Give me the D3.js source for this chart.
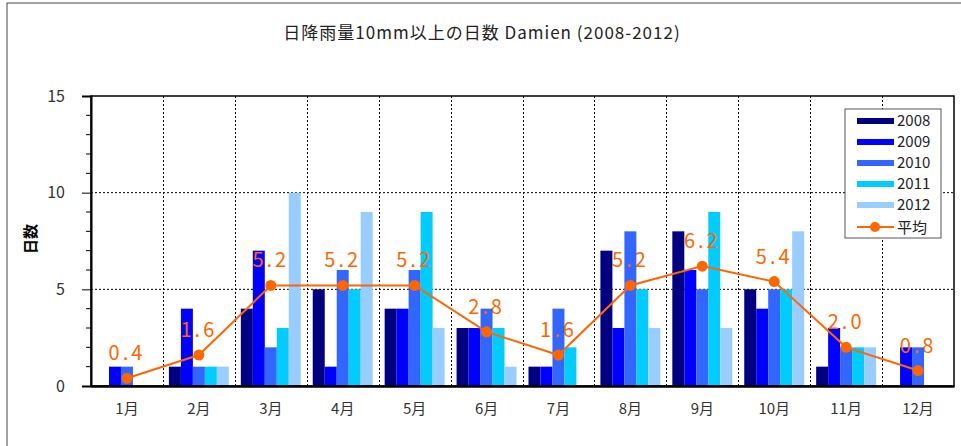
<!DOCTYPE html>
<html>
<head>
<meta charset="utf-8">
<script src="https://cdn.jsdelivr.net/npm/d3@7"></script>
<style>
  body { margin: 0; background: #fff; }
  text { font-family: "Noto Sans CJK JP", "DejaVu Sans", sans-serif; }
</style>
</head>
<body>
<div id="chart"></div>
<script>
// data
var months = ["1月","2月","3月","4月","5月","6月","7月","8月","9月","10月","11月","12月"];
var years = ["2008","2009","2010","2011","2012"];
var d2008 = [0, 1, 4, 5, 4, 3, 1, 7, 8, 5, 1, 0];
var d2009 = [1, 4, 7, 1, 4, 3, 1, 3, 6, 4, 3, 2];
var d2010 = [1, 1, 2, 6, 6, 4, 4, 8, 5, 5, 2, 2];
var d2011 = [0, 1, 3, 5, 9, 3, 2, 5, 9, 5, 2, 0];
var d2012 = [0, 1, 10, 9, 3, 1, 0, 3, 3, 8, 2, 0];
var average = [0.4, 1.6, 5.2, 5.2, 5.2, 2.8, 1.6, 5.2, 6.2, 5.4, 2.0, 0.8];
var yTicks = [0, 5, 10, 15];
var series = [d2008, d2009, d2010, d2011, d2012];
var colors = ["#000080", "#0000ff", "#3366ff", "#00ccff", "#99ccff"];
var avgColor = "#ff6600";

var W = 961, H = 446;
var margin = {top: 96, right: 7, bottom: 60, left: 91},
    width = W - margin.left - margin.right,
    height = H - margin.top - margin.bottom;

var svg = d3.select("#chart").append("svg")
    .attr("width", W)
    .attr("height", H);

// outer chart border
svg.append("rect")
    .attr("x", 7).attr("y", 3)
    .attr("width", W + 10).attr("height", H + 10)
    .attr("fill", "none")
    .attr("stroke", "#444")
    .attr("stroke-width", 1);

svg.append("text")
    .attr("x", 482).attr("y", 39)
    .attr("text-anchor", "middle")
    .style("font-size", "17px")
    .style("letter-spacing", "1px")
    .attr("fill", "#222")
    .text("日降雨量10mm以上の日数 Damien (2008-2012)");

var g = svg.append("g")
    .attr("transform", "translate(" + margin.left + "," + margin.top + ")");

var x = d3.scaleBand().domain(months).range([0, width]).paddingInner(0).paddingOuter(0);
var xs = d3.scaleBand().domain(years).range([0, x.bandwidth()]).paddingInner(0).paddingOuter(0.5);
var y = d3.scaleLinear().domain([0, 15]).range([height, 0]);

// horizontal gridlines
g.selectAll(".hgrid")
    .data(yTicks.filter(function(d){ return d > 0 && d < 15; }))
  .enter().append("line")
    .attr("x1", 0).attr("x2", width)
    .attr("y1", function(d){ return y(d); })
    .attr("y2", function(d){ return y(d); })
    .attr("stroke", "#000")
    .attr("stroke-width", 1)
    .attr("stroke-dasharray", "2,2");

// vertical gridlines between months
g.selectAll(".vgrid")
    .data(months.slice(1))
  .enter().append("line")
    .attr("x1", function(d){ return Math.round(x(d)) + 0.5; })
    .attr("x2", function(d){ return Math.round(x(d)) + 0.5; })
    .attr("y1", 0).attr("y2", height)
    .attr("stroke", "#000")
    .attr("stroke-width", 1)
    .attr("stroke-dasharray", "2,2");

// bars
series.forEach(function(s, i) {
  g.selectAll(".bar" + i)
      .data(s)
    .enter().append("rect")
      .attr("x", function(d, j){ return x(months[j]) + xs(years[i]); })
      .attr("y", function(d){ return y(d); })
      .attr("width", xs.bandwidth())
      .attr("height", function(d){ return height - y(d); })
      .attr("fill", colors[i]);
});

// plot frame
g.append("rect")
    .attr("x", 0).attr("y", 0)
    .attr("width", width).attr("height", height)
    .attr("fill", "none")
    .attr("stroke", "#000")
    .attr("stroke-width", 1.5);

// y axis
var yAxis = d3.axisLeft(y).tickValues(yTicks).tickSize(9).tickFormat(d3.format("d"));
var ya = g.append("g").call(yAxis);
ya.select(".domain").attr("stroke-width", 2);
ya.selectAll("text").style("font-size", "16px").attr("fill", "#333").attr("dx", "-14px");
var minor = d3.range(0, 16).filter(function(d){ return d % 5 != 0; });
g.selectAll(".minor")
    .data(minor)
  .enter().append("line")
    .attr("x1", -5).attr("x2", 0)
    .attr("y1", function(d){ return y(d); })
    .attr("y2", function(d){ return y(d); })
    .attr("stroke", "#000");

// x axis
var xAxis = d3.axisBottom(x).tickSize(0).tickPadding(17);
var xa = g.append("g").attr("transform", "translate(0," + height + ")").call(xAxis);
xa.select(".domain").attr("stroke-width", 2.5);
xa.selectAll("text").style("font-size", "15px").attr("fill", "#333");

g.append("text")
    .attr("transform", "rotate(-90)")
    .attr("x", -(height / 2) + 2)
    .attr("y", -55)
    .attr("text-anchor", "middle")
    .style("font-size", "15px")
    .style("font-weight", "bold")
    .text("日数");

// average line
var line = d3.line()
    .x(function(d, j){ return x(months[j]) + x.bandwidth() / 2; })
    .y(function(d){ return y(d); });

g.append("path")
    .datum(average)
    .attr("d", line)
    .attr("fill", "none")
    .attr("stroke", avgColor)
    .attr("stroke-width", 2);

g.selectAll(".dot")
    .data(average)
  .enter().append("circle")
    .attr("cx", function(d, j){ return x(months[j]) + x.bandwidth() / 2; })
    .attr("cy", function(d){ return y(d); })
    .attr("r", 5.5)
    .attr("fill", avgColor);

g.selectAll(".lbl")
    .data(average)
  .enter().append("text")
    .attr("x", function(d, j){ return x(months[j]) + x.bandwidth() / 2; })
    .attr("y", function(d){ return y(d) - 18; })
    .attr("text-anchor", "middle")
    .style("font-size", "20px")
    .style("letter-spacing", "3px")
    .attr("fill", avgColor)
    .text(function(d){ return d3.format(".1f")(d); });

// legend
var lg = svg.append("g").attr("transform", "translate(845,109)");
lg.append("rect")
    .attr("width", 96).attr("height", 129)
    .attr("fill", "#fff")
    .attr("stroke", "#555");
years.forEach(function(yr, i) {
  lg.append("rect")
      .attr("x", 12).attr("y", 9 + i * 21)
      .attr("width", 37).attr("height", 6)
      .attr("fill", colors[i]);
  lg.append("text")
      .attr("x", 52).attr("y", 17 + i * 21)
      .style("font-size", "15px")
      .attr("fill", "#222")
      .text(yr);
});
lg.append("line")
    .attr("x1", 12).attr("x2", 49)
    .attr("y1", 118).attr("y2", 118)
    .attr("stroke", avgColor).attr("stroke-width", 2);
lg.append("circle")
    .attr("cx", 30).attr("cy", 118).attr("r", 5)
    .attr("fill", avgColor);
lg.append("text")
    .attr("x", 52).attr("y", 124)
    .style("font-size", "15px")
    .attr("fill", "#222")
    .text("平均");
</script>
</body>
</html>
